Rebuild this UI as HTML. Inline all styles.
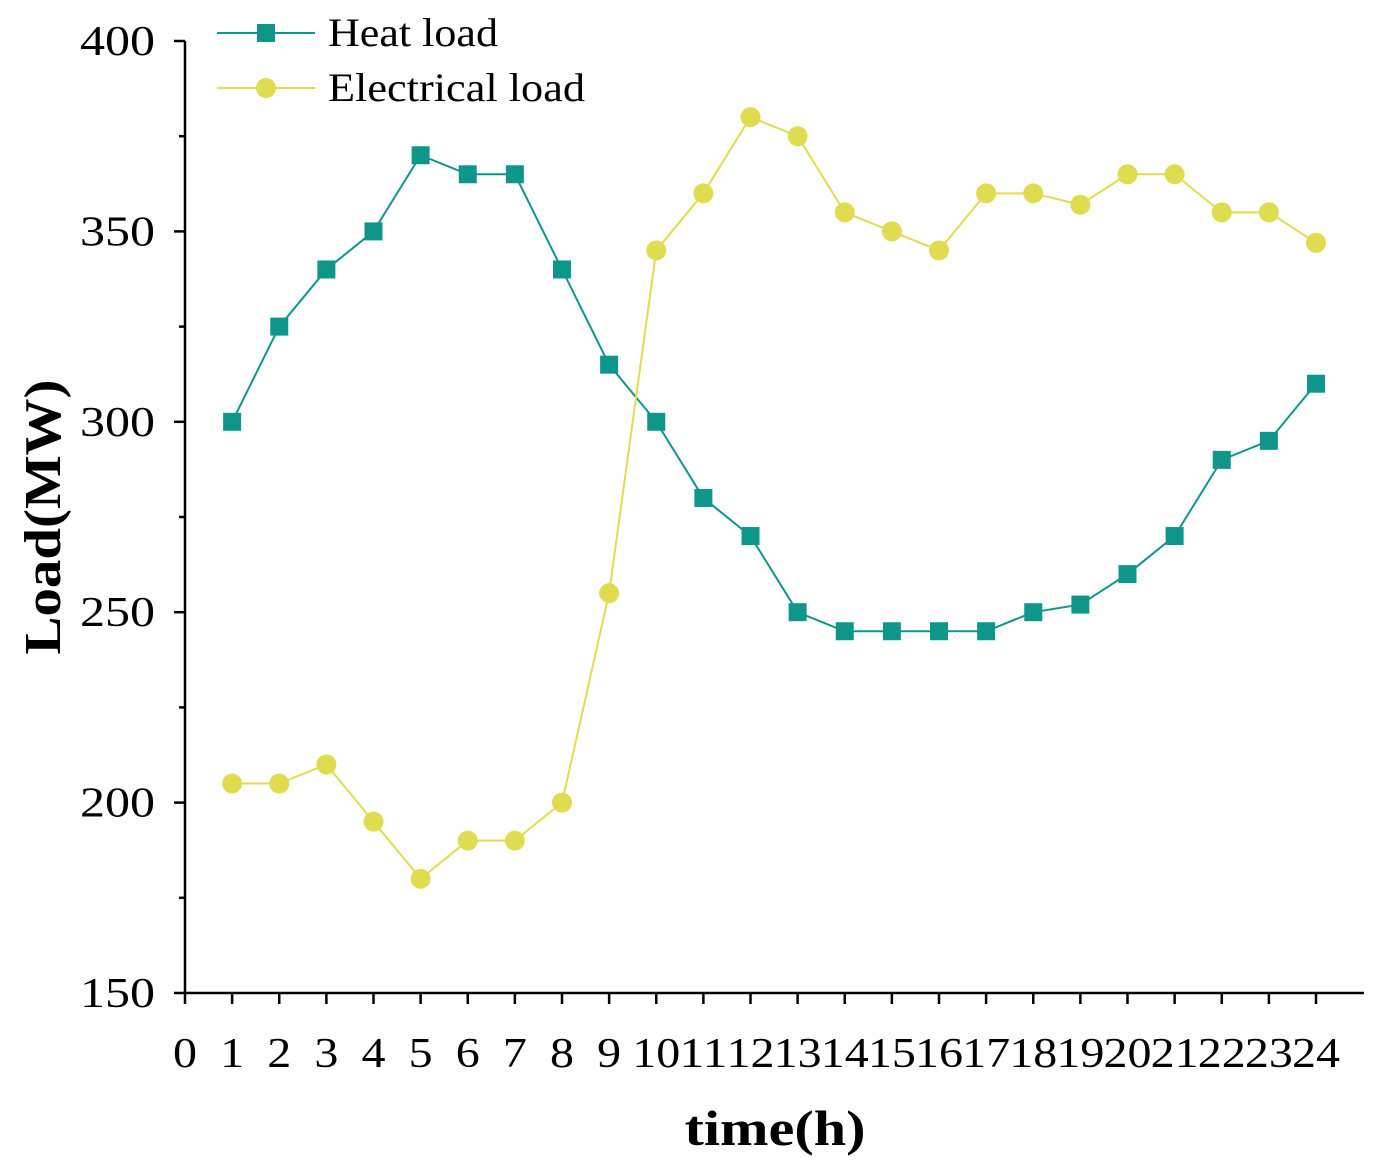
<!DOCTYPE html>
<html><head><meta charset="utf-8"><style>
html,body{margin:0;padding:0;background:#fff;}
svg text{font-family:"Liberation Serif",serif;}
</style></head><body>
<svg id="chart" width="1382" height="1166" xmlns="http://www.w3.org/2000/svg">
<g id="axes"></g>
<g id="series"></g>
<g id="legend">
  <g>
    <line x1="217" y1="33" x2="315" y2="33" stroke="#0e968a" stroke-width="2"/>
    <rect x="257" y="24" width="18" height="18" fill="#0e968a"/>
    <text x="328" y="46" font-size="40" textLength="170" lengthAdjust="spacingAndGlyphs">Heat load</text>
  </g>
  <g>
    <line x1="217" y1="88" x2="315" y2="88" stroke="#e0dc50" stroke-width="2"/>
    <circle cx="266" cy="88" r="10" fill="#e0dc50"/>
    <text x="328" y="101" font-size="40" textLength="257" lengthAdjust="spacingAndGlyphs">Electrical load</text>
  </g>
</g>
<text x="0" y="0" font-size="52" font-weight="bold" text-anchor="middle" textLength="275" lengthAdjust="spacingAndGlyphs" transform="translate(60,517) rotate(-90)">Load(MW)</text>
<text x="775" y="1145" font-size="50" font-weight="bold" text-anchor="middle" textLength="181" lengthAdjust="spacingAndGlyphs">time(h)</text>
</svg>
<script>
const hours = [1,2,3,4,5,6,7,8,9,10,11,12,13,14,15,16,17,18,19,20,21,22,23,24];
const heatLoad = [300,325,340,350,370,365,365,340,315,300,280,270,250,245,245,245,245,250,252,260,270,290,295,310];
const elecLoad = [205,205,210,195,180,190,190,200,255,345,360,380,375,355,350,345,360,360,357,365,365,355,355,347];
const yTicks = [150,200,250,300,350,400];
const xTicks = [0,1,2,3,4,5,6,7,8,9,10,11,12,13,14,15,16,17,18,19,20,21,22,23,24];

const NS = "http://www.w3.org/2000/svg";
const x = v => 185 + v * (1316 - 185) / 24;
const y = v => 993 - (v - 150) * (993 - 41) / 250;
function mk(tag, attrs, parent){const e=document.createElementNS(NS,tag);for(const k in attrs)e.setAttribute(k,attrs[k]);parent.appendChild(e);return e;}
const axes = document.getElementById('axes');
const series = document.getElementById('series');

let e = mk('line',{x1:185,y1:41,x2:185,y2:994,stroke:'#000','stroke-width':2.5},axes);


e = mk('line',{x1:184,y1:993,x2:1364,y2:993,stroke:'#000','stroke-width':2.5},axes);



for (let v = 150; v <= 400; v += 25) {
  const major = (v % 50 === 0);
  mk('line',{x1:185-(major?11:6),y1:y(v),x2:185,y2:y(v),stroke:'#000','stroke-width':2.5},axes);
}
yTicks.forEach(v => {
  const s = String(v);
  const t = mk('text',{x:155,y:y(v)+14,'font-size':42,'text-anchor':'end',textLength:s.length*25,lengthAdjust:'spacingAndGlyphs'},axes);
  t.textContent = s;
  
  
});
xTicks.forEach(v => {
  mk('line',{x1:x(v),y1:993,x2:x(v),y2:1004,stroke:'#000','stroke-width':2.5},axes);
  const s = String(v);
  const t = mk('text',{x:x(v),y:1067,'font-size':42,'text-anchor':'middle',textLength:s.length*24,lengthAdjust:'spacingAndGlyphs'},axes);
  t.textContent = s;
  
  
});

function drawSeries(vals, color, kind, name){
  const g = mk('g',{},series);
  
  
  const pts = vals.map((v,i)=>x(hours[i])+','+y(v)).join(' ');
  mk('polyline',{points:pts,fill:'none',stroke:color,'stroke-width':2},g);
  vals.forEach((v,i)=>{
    let m;
    if (kind==='square') m = mk('rect',{x:x(hours[i])-9,y:y(v)-9,width:18,height:18,fill:color},g);
    else m = mk('circle',{cx:x(hours[i]),cy:y(v),r:10,fill:color},g);
    
    
  });
}
drawSeries(heatLoad,'#0e968a','square','heat-load-series');
drawSeries(elecLoad,'#e0dc50','circle','electrical-load-series');
</script>
</body></html>
